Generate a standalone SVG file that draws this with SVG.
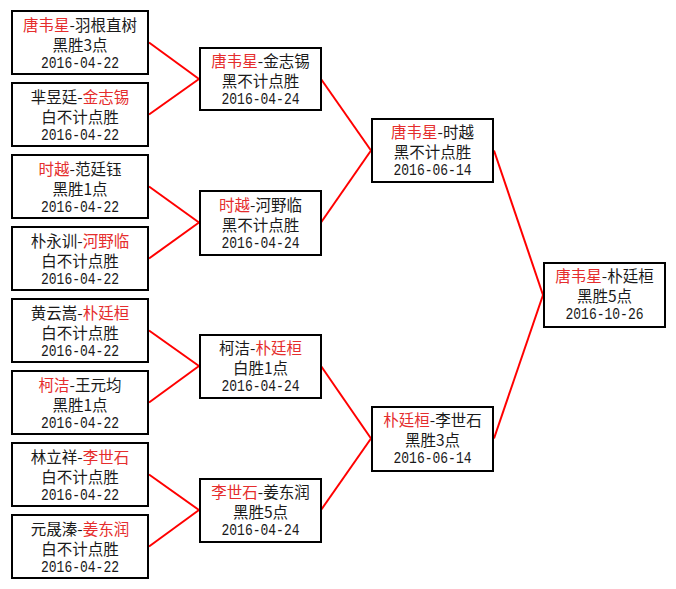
<svg xmlns="http://www.w3.org/2000/svg" width="676" height="589" viewBox="0 0 676 589">
<style>
.box{fill:#fff;stroke:#000;stroke-width:2}
.t{font-family:"Noto Sans CJK SC","Liberation Sans",sans-serif;font-size:15.5px;fill:#1a1a1a;text-anchor:middle}
.d{font-family:"Liberation Mono","DejaVu Sans Mono",monospace;font-size:16.5px;fill:#1a1a1a;text-anchor:middle}
.r{fill:#e52d2d}
.c line{stroke:#f00;stroke-width:2}
</style>
<rect width="676" height="589" fill="#fff"/>
<g id="connectors" class="c">
<line x1="149" y1="42.5" x2="199" y2="79"/>
<line x1="149" y1="114.5" x2="199" y2="79"/>
<line x1="149" y1="186.5" x2="199" y2="222.5"/>
<line x1="149" y1="258.5" x2="199" y2="222.5"/>
<line x1="149" y1="330.5" x2="199" y2="366"/>
<line x1="149" y1="402.5" x2="199" y2="366"/>
<line x1="149" y1="474.5" x2="199" y2="510"/>
<line x1="149" y1="546.5" x2="199" y2="510"/>
<line x1="321" y1="79" x2="371" y2="150.5"/>
<line x1="321" y1="222.5" x2="371" y2="150.5"/>
<line x1="321" y1="366" x2="371" y2="438.5"/>
<line x1="321" y1="510" x2="371" y2="438.5"/>
<line x1="494" y1="150.5" x2="543" y2="295"/>
<line x1="494" y1="438.5" x2="543" y2="295"/>
</g>
<g id="L1"><rect class="box" x="12" y="11" width="136" height="63"/>
<text class="t" x="80" y="31"><tspan class="r">唐韦星</tspan>-羽根直树</text>
<text class="t" x="80" y="51">黑胜3点</text>
<text class="d" x="80" y="68" textLength="78" lengthAdjust="spacingAndGlyphs">2016-04-22</text></g>
<g id="L2"><rect class="box" x="12" y="83" width="136" height="63"/>
<text class="t" x="80" y="103">芈昱廷-<tspan class="r">金志锡</tspan></text>
<text class="t" x="80" y="123">白不计点胜</text>
<text class="d" x="80" y="140" textLength="78" lengthAdjust="spacingAndGlyphs">2016-04-22</text></g>
<g id="L3"><rect class="box" x="12" y="155" width="136" height="63"/>
<text class="t" x="80" y="175"><tspan class="r">时越</tspan>-范廷钰</text>
<text class="t" x="80" y="195">黑胜1点</text>
<text class="d" x="80" y="212" textLength="78" lengthAdjust="spacingAndGlyphs">2016-04-22</text></g>
<g id="L4"><rect class="box" x="12" y="227" width="136" height="63"/>
<text class="t" x="80" y="247">朴永训-<tspan class="r">河野临</tspan></text>
<text class="t" x="80" y="267">白不计点胜</text>
<text class="d" x="80" y="284" textLength="78" lengthAdjust="spacingAndGlyphs">2016-04-22</text></g>
<g id="L5"><rect class="box" x="12" y="299" width="136" height="63"/>
<text class="t" x="80" y="319">黄云嵩-<tspan class="r">朴廷桓</tspan></text>
<text class="t" x="80" y="339">白不计点胜</text>
<text class="d" x="80" y="356" textLength="78" lengthAdjust="spacingAndGlyphs">2016-04-22</text></g>
<g id="L6"><rect class="box" x="12" y="371" width="136" height="63"/>
<text class="t" x="80" y="391"><tspan class="r">柯洁</tspan>-王元均</text>
<text class="t" x="80" y="411">黑胜1点</text>
<text class="d" x="80" y="428" textLength="78" lengthAdjust="spacingAndGlyphs">2016-04-22</text></g>
<g id="L7"><rect class="box" x="12" y="443" width="136" height="63"/>
<text class="t" x="80" y="463">林立祥-<tspan class="r">李世石</tspan></text>
<text class="t" x="80" y="483">白不计点胜</text>
<text class="d" x="80" y="500" textLength="78" lengthAdjust="spacingAndGlyphs">2016-04-22</text></g>
<g id="L8"><rect class="box" x="12" y="515" width="136" height="63"/>
<text class="t" x="80" y="535">元晟溱-<tspan class="r">姜东润</tspan></text>
<text class="t" x="80" y="555">白不计点胜</text>
<text class="d" x="80" y="572" textLength="78" lengthAdjust="spacingAndGlyphs">2016-04-22</text></g>
<g id="M1"><rect class="box" x="200" y="48" width="121" height="62"/>
<text class="t" x="260.5" y="67"><tspan class="r">唐韦星</tspan>-金志锡</text>
<text class="t" x="260.5" y="87">黑不计点胜</text>
<text class="d" x="260.5" y="104" textLength="78" lengthAdjust="spacingAndGlyphs">2016-04-24</text></g>
<g id="M2"><rect class="box" x="200" y="191" width="121" height="64"/>
<text class="t" x="260.5" y="211"><tspan class="r">时越</tspan>-河野临</text>
<text class="t" x="260.5" y="231">黑不计点胜</text>
<text class="d" x="260.5" y="248" textLength="78" lengthAdjust="spacingAndGlyphs">2016-04-24</text></g>
<g id="M3"><rect class="box" x="200" y="335" width="121" height="63"/>
<text class="t" x="260.5" y="354">柯洁-<tspan class="r">朴廷桓</tspan></text>
<text class="t" x="260.5" y="374">白胜1点</text>
<text class="d" x="260.5" y="391" textLength="78" lengthAdjust="spacingAndGlyphs">2016-04-24</text></g>
<g id="M4"><rect class="box" x="200" y="479" width="121" height="63"/>
<text class="t" x="260.5" y="498"><tspan class="r">李世石</tspan>-姜东润</text>
<text class="t" x="260.5" y="518">黑胜5点</text>
<text class="d" x="260.5" y="535" textLength="78" lengthAdjust="spacingAndGlyphs">2016-04-24</text></g>
<g id="S1"><rect class="box" x="372" y="119" width="121" height="63"/>
<text class="t" x="432.5" y="138"><tspan class="r">唐韦星</tspan>-时越</text>
<text class="t" x="432.5" y="158">黑不计点胜</text>
<text class="d" x="432.5" y="175" textLength="78" lengthAdjust="spacingAndGlyphs">2016-06-14</text></g>
<g id="S2"><rect class="box" x="372" y="407" width="121" height="64"/>
<text class="t" x="432.5" y="426"><tspan class="r">朴廷桓</tspan>-李世石</text>
<text class="t" x="432.5" y="446">黑胜3点</text>
<text class="d" x="432.5" y="463" textLength="78" lengthAdjust="spacingAndGlyphs">2016-06-14</text></g>
<g id="F"><rect class="box" x="544" y="263" width="121" height="64"/>
<text class="t" x="604.5" y="282"><tspan class="r">唐韦星</tspan>-朴廷桓</text>
<text class="t" x="604.5" y="302">黑胜5点</text>
<text class="d" x="604.5" y="319" textLength="78" lengthAdjust="spacingAndGlyphs">2016-10-26</text></g>
</svg>
